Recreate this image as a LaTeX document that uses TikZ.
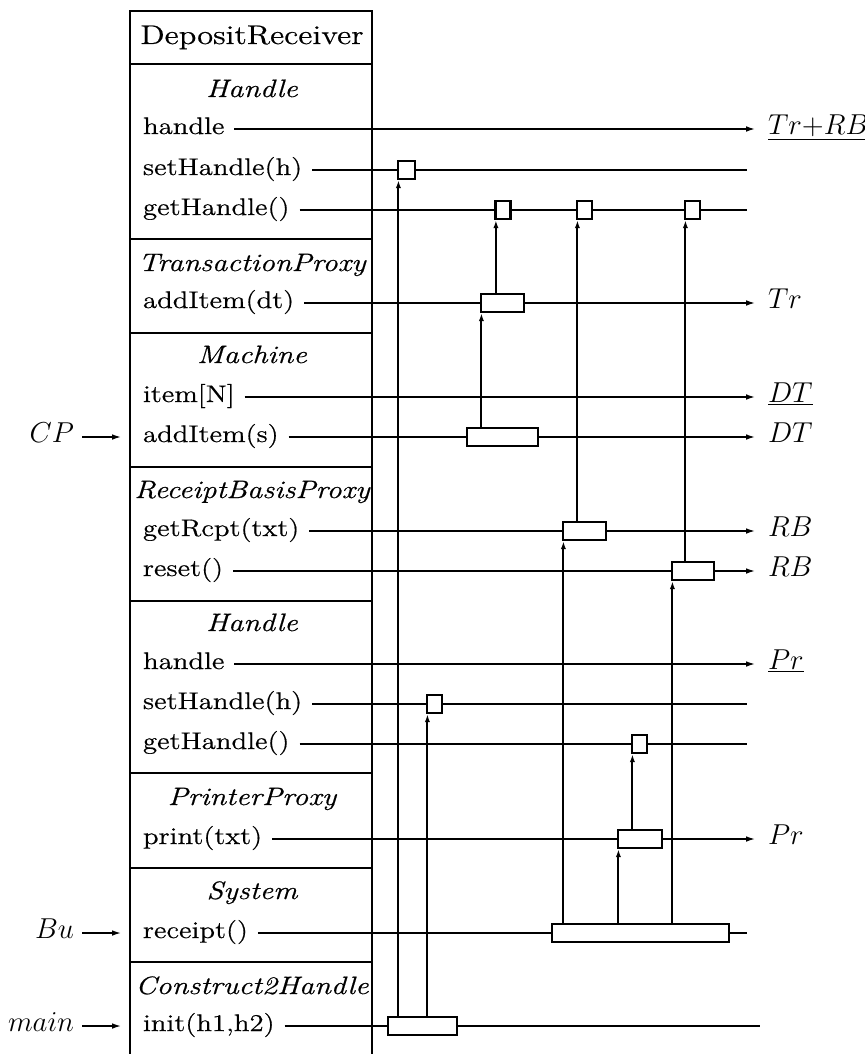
\documentclass[tikz,border=0pt]{standalone}
\usepackage{fontspec}
\setmainfont{Latin Modern Roman}[FakeStretch=1.2, FakeBold=0.6]
\usetikzlibrary{arrows.meta}
\begin{document}
\begin{tikzpicture}[x=0.5pt, y=-0.5pt, line width=1pt,
    font=\fontsize{12}{15}\selectfont,
    meth/.style={anchor=west, inner xsep=4.5pt, inner ysep=0pt, text height=0.75em, text depth=0.25em},
    head/.style={inner sep=0pt, text height=0.75em, text depth=0.25em, font=\fontsize{12.6}{15}\selectfont\itshape},
    outl/.style={anchor=west, inner xsep=5.5pt, inner ysep=0pt, text height=0.75em, text depth=0.25em, font=\fontsize{14}{17}\selectfont},
    inl/.style={anchor=east, inner xsep=3.5pt, inner ysep=0pt, text height=0.75em, text depth=0.25em, font=\fontsize{14}{17}\selectfont},
    op/.style={draw, line width=1.1pt, minimum height=9pt, inner sep=0pt},
    >={Latex[length=5pt,width=2.8pt]},
    call/.style={-{Latex[length=4pt,width=2.6pt]}}]
\useasboundingbox (0,0) rectangle (865,1054);

\draw (130,1054) -- (130,11) -- (372,11) -- (372,1054);
\foreach \y in {64,239,333,467,601,773,868,962}
    \draw (130,\y) -- (372,\y);

\node[head, font=\fontsize{13.5}{16}\selectfont] (title) at (252,39) {DepositReceiver};
\node[head] (hHandle1) at (252,92) {Handle};
\node[head] (hTrans) at (252,266) {TransactionProxy};
\node[head] (hMach) at (252,358) {Machine};
\node[head] (hRcpt) at (252,493) {ReceiptBasisProxy};
\node[head] (hHandle2) at (252,626) {Handle};
\node[head] (hPrint) at (252,800) {PrinterProxy};
\node[head] (hSys) at (252,894) {System};
\node[head] (hCons) at (252,989) {Construct2Handle};

\node[meth] (hdl1) at (133,129) {handle};
\node[meth] (set1) at (133,170) {setHandle(h)};
\node[meth] (get1) at (133,210) {getHandle()};
\node[meth] (addDt) at (133,303) {addItem(dt)};
\node[meth] (itemN) at (133,397) {item[N]};
\node[meth] (addS) at (133,437) {addItem(s)};
\node[meth] (rcpt) at (133,531) {getRcpt(txt)};
\node[meth] (reset) at (133,571) {reset()};
\node[meth] (hdl2) at (133,664) {handle};
\node[meth] (set2) at (133,704) {setHandle(h)};
\node[meth] (get2) at (133,744) {getHandle()};
\node[meth] (print) at (133,839) {print(txt)};
\node[meth] (receipt) at (133,933) {receipt()};
\node[meth] (init) at (133,1026) {init(h1,h2)};

\node[outl] (oTrRB) at (756,129) {$\underline{Tr{+}RB}$};
\node[outl] (oTr) at (756,303) {$Tr$};
\node[outl] (oDTu) at (756,397) {$\underline{DT}$};
\node[outl] (oDT) at (756,437) {$DT$};
\node[outl] (oRB1) at (756,531) {$RB$};
\node[outl] (oRB2) at (756,571) {$RB$};
\node[outl] (oPru) at (756,664) {$\underline{Pr}$};
\node[outl] (oPr) at (756,839) {$Pr$};

\coordinate (eSet1) at (747,170);
\coordinate (eGet1) at (747,210);
\coordinate (eSet2) at (747,704);
\coordinate (eGet2) at (747,744);
\coordinate (eRcpt) at (747,933);
\coordinate (eInit) at (760,1026);

\node[inl] (cp) at (82,437) {$CP$};
\node[inl] (bu) at (82,933) {$Bu$};
\node[inl] (mainIn) at (82,1026) {$main$};
\draw[->, shorten >=5.5pt] (cp.east) -- (addS.west);
\draw[->, shorten >=5.5pt] (bu.east) -- (receipt.west);
\draw[->, shorten >=5.5pt] (mainIn.east) -- (init.west);

\node[op, minimum width=8.5pt] (sh1) at (406.5,170) {};
\node[op, minimum width=7.5pt] (gh1) at (503,210) {};
\node[op, minimum width=7.5pt] (gh2) at (584.5,210) {};
\node[op, minimum width=7.5pt] (gh3) at (692.5,210) {};
\node[op, minimum width=21.5pt] (ai1) at (502.5,303) {};
\node[op, minimum width=35.5pt] (ai2) at (502.5,437) {};
\node[op, minimum width=21.5pt] (rc) at (584.5,531) {};
\node[op, minimum width=21pt] (rs) at (693,571) {};
\node[op, minimum width=7.5pt] (sh2) at (434.5,704) {};
\node[op, minimum width=7.5pt] (gh4) at (639.5,744) {};
\node[op, minimum width=22pt] (pr) at (640,839) {};
\node[op, minimum width=88.5pt] (rt) at (640.5,933) {};
\node[op, minimum width=34.5pt] (ini) at (422.5,1026) {};

\draw[->] (hdl1.east) -- (oTrRB.west);
\draw (set1.east) -- (sh1) -- (eSet1);
\draw (get1.east) -- (gh1) -- (gh2) -- (gh3) -- (eGet1);
\draw[->] (addDt.east) -- (ai1) -- (oTr.west);
\draw[->] (itemN.east) -- (oDTu.west);
\draw[->] (addS.east) -- (ai2) -- (oDT.west);
\draw[->] (rcpt.east) -- (rc) -- (oRB1.west);
\draw[->] (reset.east) -- (rs) -- (oRB2.west);
\draw[->] (hdl2.east) -- (oPru.west);
\draw (set2.east) -- (sh2) -- (eSet2);
\draw (get2.east) -- (gh4) -- (eGet2);
\draw[->] (print.east) -- (pr) -- (oPr.west);
\draw (receipt.east) -- (rt) -- (eRcpt);
\draw (init.east) -- (ini) -- (eInit);

\foreach \src/\dst in {ai2/ai1, ai1/gh1, rc/gh2, rs/gh3, ini/sh1, ini/sh2, rt/rc, rt/pr, rt/rs, pr/gh4} {
    \path ([xshift=0.75pt]\dst.south west) coordinate (tip);
    \draw[call] (tip |- \src.north) -- (tip);
}
\end{tikzpicture}
\end{document}
